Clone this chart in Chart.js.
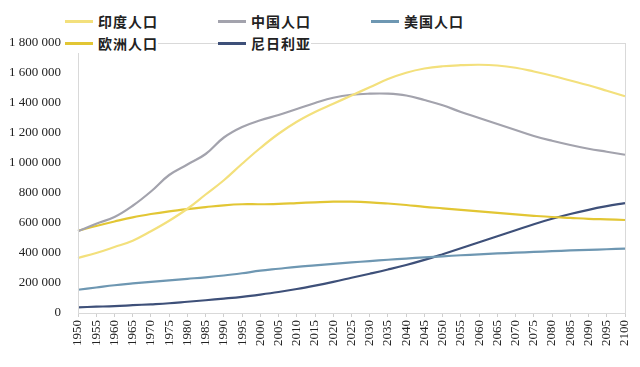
<!DOCTYPE html>
<html>
<head>
<meta charset="utf-8">
<script src="https://cdn.jsdelivr.net/npm/chart.js@4"></script>
<style>
  html, body { margin: 0; padding: 0; background: #fff; }
  #wrap { position: relative; width: 640px; height: 367px; }
  #legend { position: absolute; left: 0; top: 0; width: 640px; height: 50px; pointer-events: none; }
  .item { position: absolute; display: flex; align-items: center; font-family: "Noto Sans CJK SC", sans-serif; font-size: 14px; font-weight: bold; color: #222; letter-spacing: 1px; background: #fff; }
  .item span.sw { display: inline-block; width: 28px; height: 3px; margin-right: 5px; }
</style>
</head>
<body>
<div id="wrap">
  <canvas id="popChart" width="640" height="367"></canvas>
  <div id="legend"></div>
</div>
<script>
// years on the x axis
const years = [];
for (let y = 1950; y <= 2100; y += 5) years.push(String(y));

// population, thousands (5-year steps)
const india = [367, 400, 440, 482, 545, 615, 695, 790, 885, 995, 1100, 1195, 1275, 1340, 1395,
  1450, 1505, 1560, 1602, 1630, 1645, 1652, 1655, 1650, 1635, 1610, 1582, 1550, 1518, 1482, 1445];
const china = [545, 595, 640, 715, 810, 920, 990, 1060, 1170, 1240, 1285, 1320, 1360, 1400, 1435,
  1455, 1462, 1462, 1450, 1420, 1385, 1340, 1300, 1260, 1220, 1180, 1148, 1120, 1095, 1075, 1055];
const usa = [155, 170, 185, 197, 208, 218, 228, 238, 250, 265, 282, 295, 308, 318, 328,
  337, 346, 355, 363, 371, 378, 385, 391, 397, 402, 407, 412, 417, 421, 425, 429];
const europe = [548, 580, 610, 638, 660, 678, 693, 706, 718, 725, 725, 728, 733, 738, 742,
  742, 738, 730, 720, 708, 698, 688, 677, 667, 657, 648, 640, 634, 628, 624, 620];
const nigeria = [38, 42, 46, 52, 58, 65, 75, 85, 96, 108, 123, 140, 160, 183, 208,
  235, 262, 290, 320, 354, 392, 432, 472, 512, 552, 592, 628, 660, 688, 712, 733];

const yTicks = [0, 200000, 400000, 600000, 800000, 1000000, 1200000, 1400000, 1600000, 1800000];

const series = [
  { name: '印度人口', data: india, color: '#f3e07c', left: 65, top: 11 },
  { name: '中国人口', data: china, color: '#a3a3ad', left: 218, top: 11 },
  { name: '美国人口', data: usa, color: '#6e97b2', left: 371, top: 11 },
  { name: '欧洲人口', data: europe, color: '#e2c634', left: 65, top: 33 },
  { name: '尼日利亚', data: nigeria, color: '#3e5079', left: 218, top: 33 }
];

// html legend
const legend = document.getElementById('legend');
series.forEach(function(s) {
  const d = document.createElement('div');
  d.className = 'item';
  d.style.left = s.left + 'px';
  d.style.top = s.top + 'px';
  d.innerHTML = '<span class="sw" style="background:' + s.color + '"></span>' + s.name;
  legend.appendChild(d);
});

function fmt(v) {
  return String(v).replace(/\B(?=(\d{3})+(?!\d))/g, ' ');
}

// light frame around the plot area
const frame = {
  id: 'frame',
  afterDraw(chart) {
    const a = chart.chartArea, c = chart.ctx;
    c.save();
    c.strokeStyle = '#d9d9d9';
    c.lineWidth = 1;
    c.strokeRect(a.left + 0.5, a.top + 0.5, a.right - a.left, a.bottom - a.top);
    c.restore();
  }
};

const ctx = document.getElementById('popChart');
new Chart(ctx, {
  type: 'line',
  data: {
    labels: years,
    datasets: series.map(function(s) {
      return {
        label: s.name,
        data: s.data.map(function(v) { return v * 1000; }),
        borderColor: s.color,
        borderWidth: 2.2,
        pointRadius: 0,
        tension: 0.4,
        fill: false
      };
    })
  },
  options: {
    responsive: false,
    animation: false,
    layout: { padding: { top: 43, right: 15, left: 0, bottom: 0 } },
    plugins: { legend: { display: false }, tooltip: { enabled: false } },
    scales: {
      x: {
        offset: false,
        grid: { display: true, drawOnChartArea: false, tickLength: 4, color: '#cfcfcf' },
        border: { color: '#d0d0d0' },
        ticks: {
          autoSkip: false, maxRotation: 90, minRotation: 90, padding: 3,
          color: '#222', font: { family: 'Liberation Serif', size: 13 }
        },
        afterFit: function(scale) {
          scale.height = 54;
          scale.paddingRight = 0;
          scale.paddingLeft = 0;
        }
      },
      y: {
        min: 0, max: 1800000,
        afterBuildTicks: function(scale) { scale.ticks = yTicks.map(function(v) { return { value: v }; }); },
        grid: { display: false },
        border: { color: '#d0d0d0' },
        ticks: {
          padding: 9, color: '#222',
          font: { family: 'Liberation Serif', size: 13 },
          callback: function(v) { return fmt(v); }
        },
        afterFit: function(scale) { scale.width = 78; }
      }
    }
  },
  plugins: [frame]
});
</script>
</body>
</html>
